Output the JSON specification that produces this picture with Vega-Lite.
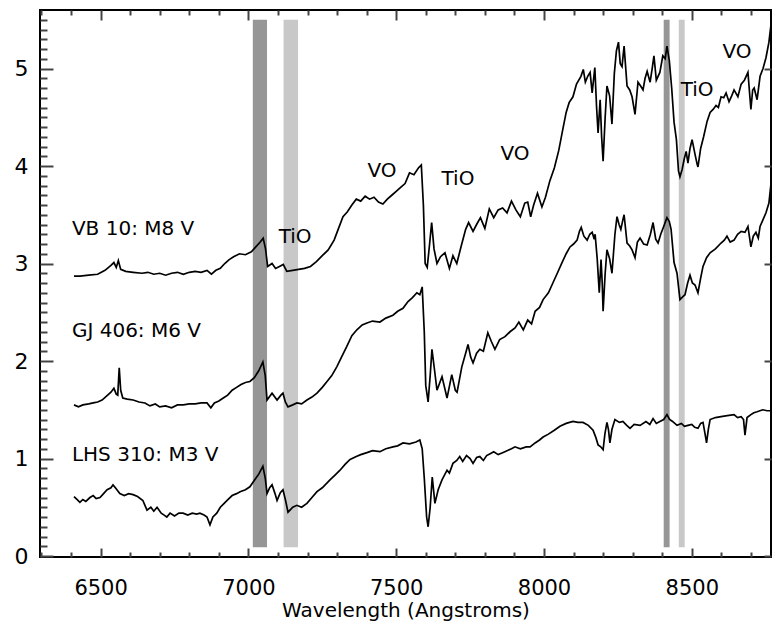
{
  "$schema": "https://vega.github.io/schema/vega-lite/v6.json",
  "width": 731,
  "height": 547,
  "autosize": {"type": "none"},
  "padding": {"left": 40, "top": 10, "right": 2, "bottom": 80},
  "background": "white",
  "config": {"view": {"stroke": "black", "strokeWidth": 2}, "font": "DejaVu Sans",
    "axis": {"grid": false, "domain": false, "labelColor": "black", "titleColor": "black"}},
  "datasets": {
    "bands": [
      {"start": 7015, "end": 7063, "low": 0.09, "high": 5.5, "shade": "dark"},
      {"start": 7119, "end": 7168, "low": 0.09, "high": 5.5, "shade": "light"},
      {"start": 8405, "end": 8425, "low": 0.09, "high": 5.5, "shade": "dark"},
      {"start": 8456, "end": 8476, "low": 0.09, "high": 5.5, "shade": "light"}
    ],
    "stars": [
      {"wl": 6403, "flux": 3.35, "label": "VB 10: M8 V"},
      {"wl": 6403, "flux": 2.31, "label": "GJ 406: M6 V"},
      {"wl": 6403, "flux": 1.04, "label": "LHS 310: M3 V"}
    ],
    "bandsLabels": [
      {"wl": 7158, "flux": 3.27, "label": "TiO"},
      {"wl": 7452, "flux": 3.95, "label": "VO"},
      {"wl": 7709, "flux": 3.87, "label": "TiO"},
      {"wl": 7902, "flux": 4.12, "label": "VO"},
      {"wl": 8518, "flux": 4.78, "label": "TiO"},
      {"wl": 8653, "flux": 5.17, "label": "VO"}
    ],
    "spectra": [
      {"star":"VB 10","wl":6410,"flux":2.87},{"star":"VB 10","wl":6430,"flux":2.87},{"star":"VB 10","wl":6460,"flux":2.88},{"star":"VB 10","wl":6490,"flux":2.89},{"star":"VB 10","wl":6515,"flux":2.93},{"star":"VB 10","wl":6535,"flux":2.98},{"star":"VB 10","wl":6545,"flux":3.01},{"star":"VB 10","wl":6553,"flux":2.96},{"star":"VB 10","wl":6560,"flux":3.03},{"star":"VB 10","wl":6568,"flux":2.94},{"star":"VB 10","wl":6585,"flux":2.92},{"star":"VB 10","wl":6610,"flux":2.91},{"star":"VB 10","wl":6640,"flux":2.90},{"star":"VB 10","wl":6660,"flux":2.91},{"star":"VB 10","wl":6680,"flux":2.89},{"star":"VB 10","wl":6700,"flux":2.90},{"star":"VB 10","wl":6720,"flux":2.88},{"star":"VB 10","wl":6740,"flux":2.90},{"star":"VB 10","wl":6760,"flux":2.91},{"star":"VB 10","wl":6780,"flux":2.89},{"star":"VB 10","wl":6800,"flux":2.91},{"star":"VB 10","wl":6820,"flux":2.92},{"star":"VB 10","wl":6840,"flux":2.91},{"star":"VB 10","wl":6860,"flux":2.93},{"star":"VB 10","wl":6875,"flux":2.89},{"star":"VB 10","wl":6890,"flux":2.93},{"star":"VB 10","wl":6905,"flux":2.95},{"star":"VB 10","wl":6920,"flux":3.00},{"star":"VB 10","wl":6935,"flux":3.04},{"star":"VB 10","wl":6950,"flux":3.07},{"star":"VB 10","wl":6970,"flux":3.10},{"star":"VB 10","wl":6990,"flux":3.09},{"star":"VB 10","wl":7010,"flux":3.12},{"star":"VB 10","wl":7025,"flux":3.17},{"star":"VB 10","wl":7040,"flux":3.22},{"star":"VB 10","wl":7050,"flux":3.26},{"star":"VB 10","wl":7058,"flux":3.15},{"star":"VB 10","wl":7065,"flux":2.97},{"star":"VB 10","wl":7080,"flux":3.00},{"star":"VB 10","wl":7092,"flux":2.95},{"star":"VB 10","wl":7105,"flux":2.97},{"star":"VB 10","wl":7118,"flux":2.99},{"star":"VB 10","wl":7130,"flux":2.92},{"star":"VB 10","wl":7150,"flux":2.93},{"star":"VB 10","wl":7170,"flux":2.94},{"star":"VB 10","wl":7190,"flux":2.95},{"star":"VB 10","wl":7210,"flux":2.97},{"star":"VB 10","wl":7230,"flux":3.02},{"star":"VB 10","wl":7250,"flux":3.08},{"star":"VB 10","wl":7270,"flux":3.14},{"star":"VB 10","wl":7290,"flux":3.24},{"star":"VB 10","wl":7305,"flux":3.36},{"star":"VB 10","wl":7320,"flux":3.48},{"star":"VB 10","wl":7335,"flux":3.53},{"star":"VB 10","wl":7350,"flux":3.60},{"star":"VB 10","wl":7365,"flux":3.66},{"star":"VB 10","wl":7380,"flux":3.64},{"star":"VB 10","wl":7395,"flux":3.69},{"star":"VB 10","wl":7410,"flux":3.66},{"star":"VB 10","wl":7425,"flux":3.68},{"star":"VB 10","wl":7440,"flux":3.63},{"star":"VB 10","wl":7455,"flux":3.61},{"star":"VB 10","wl":7470,"flux":3.66},{"star":"VB 10","wl":7485,"flux":3.70},{"star":"VB 10","wl":7500,"flux":3.74},{"star":"VB 10","wl":7515,"flux":3.78},{"star":"VB 10","wl":7530,"flux":3.82},{"star":"VB 10","wl":7545,"flux":3.93},{"star":"VB 10","wl":7560,"flux":3.91},{"star":"VB 10","wl":7575,"flux":3.98},{"star":"VB 10","wl":7585,"flux":4.01},{"star":"VB 10","wl":7592,"flux":3.60},{"star":"VB 10","wl":7598,"flux":3.00},{"star":"VB 10","wl":7605,"flux":2.96},{"star":"VB 10","wl":7613,"flux":3.20},{"star":"VB 10","wl":7620,"flux":3.42},{"star":"VB 10","wl":7628,"flux":3.15},{"star":"VB 10","wl":7638,"flux":3.00},{"star":"VB 10","wl":7650,"flux":3.07},{"star":"VB 10","wl":7665,"flux":3.11},{"star":"VB 10","wl":7680,"flux":2.95},{"star":"VB 10","wl":7692,"flux":3.08},{"star":"VB 10","wl":7705,"flux":3.00},{"star":"VB 10","wl":7720,"flux":3.18},{"star":"VB 10","wl":7735,"flux":3.35},{"star":"VB 10","wl":7745,"flux":3.42},{"star":"VB 10","wl":7760,"flux":3.33},{"star":"VB 10","wl":7772,"flux":3.40},{"star":"VB 10","wl":7785,"flux":3.47},{"star":"VB 10","wl":7800,"flux":3.36},{"star":"VB 10","wl":7815,"flux":3.56},{"star":"VB 10","wl":7830,"flux":3.47},{"star":"VB 10","wl":7845,"flux":3.55},{"star":"VB 10","wl":7860,"flux":3.57},{"star":"VB 10","wl":7875,"flux":3.52},{"star":"VB 10","wl":7890,"flux":3.64},{"star":"VB 10","wl":7905,"flux":3.55},{"star":"VB 10","wl":7920,"flux":3.48},{"star":"VB 10","wl":7935,"flux":3.62},{"star":"VB 10","wl":7945,"flux":3.63},{"star":"VB 10","wl":7955,"flux":3.48},{"star":"VB 10","wl":7965,"flux":3.60},{"star":"VB 10","wl":7978,"flux":3.72},{"star":"VB 10","wl":7993,"flux":3.58},{"star":"VB 10","wl":8005,"flux":3.68},{"star":"VB 10","wl":8020,"flux":3.85},{"star":"VB 10","wl":8035,"flux":3.98},{"star":"VB 10","wl":8050,"flux":4.16},{"star":"VB 10","wl":8062,"flux":4.35},{"star":"VB 10","wl":8075,"flux":4.55},{"star":"VB 10","wl":8085,"flux":4.65},{"star":"VB 10","wl":8098,"flux":4.71},{"star":"VB 10","wl":8110,"flux":4.84},{"star":"VB 10","wl":8125,"flux":4.92},{"star":"VB 10","wl":8133,"flux":4.99},{"star":"VB 10","wl":8140,"flux":4.86},{"star":"VB 10","wl":8148,"flux":4.92},{"star":"VB 10","wl":8156,"flux":4.96},{"star":"VB 10","wl":8163,"flux":4.75},{"star":"VB 10","wl":8172,"flux":5.01},{"star":"VB 10","wl":8178,"flux":4.60},{"star":"VB 10","wl":8183,"flux":4.34},{"star":"VB 10","wl":8190,"flux":4.68},{"star":"VB 10","wl":8195,"flux":4.30},{"star":"VB 10","wl":8200,"flux":4.05},{"star":"VB 10","wl":8207,"flux":4.50},{"star":"VB 10","wl":8213,"flux":4.82},{"star":"VB 10","wl":8222,"flux":4.72},{"star":"VB 10","wl":8230,"flux":4.43},{"star":"VB 10","wl":8238,"flux":4.95},{"star":"VB 10","wl":8245,"flux":5.18},{"star":"VB 10","wl":8252,"flux":5.27},{"star":"VB 10","wl":8258,"flux":5.05},{"star":"VB 10","wl":8264,"flux":5.02},{"star":"VB 10","wl":8271,"flux":5.23},{"star":"VB 10","wl":8281,"flux":4.82},{"star":"VB 10","wl":8290,"flux":4.78},{"star":"VB 10","wl":8298,"flux":4.71},{"star":"VB 10","wl":8308,"flux":4.53},{"star":"VB 10","wl":8318,"flux":4.86},{"star":"VB 10","wl":8327,"flux":4.82},{"star":"VB 10","wl":8335,"flux":4.78},{"star":"VB 10","wl":8342,"flux":4.90},{"star":"VB 10","wl":8349,"flux":4.97},{"star":"VB 10","wl":8359,"flux":4.86},{"star":"VB 10","wl":8366,"flux":5.00},{"star":"VB 10","wl":8372,"flux":5.13},{"star":"VB 10","wl":8380,"flux":4.88},{"star":"VB 10","wl":8392,"flux":4.96},{"star":"VB 10","wl":8402,"flux":5.13},{"star":"VB 10","wl":8410,"flux":5.10},{"star":"VB 10","wl":8416,"flux":5.23},{"star":"VB 10","wl":8424,"flux":5.08},{"star":"VB 10","wl":8432,"flux":4.80},{"star":"VB 10","wl":8440,"flux":4.45},{"star":"VB 10","wl":8448,"flux":4.27},{"star":"VB 10","wl":8455,"flux":3.95},{"star":"VB 10","wl":8460,"flux":3.89},{"star":"VB 10","wl":8467,"flux":3.96},{"star":"VB 10","wl":8475,"flux":4.08},{"star":"VB 10","wl":8481,"flux":4.15},{"star":"VB 10","wl":8487,"flux":4.03},{"star":"VB 10","wl":8494,"flux":4.18},{"star":"VB 10","wl":8501,"flux":4.27},{"star":"VB 10","wl":8511,"flux":4.12},{"star":"VB 10","wl":8518,"flux":4.02},{"star":"VB 10","wl":8521,"flux":3.99},{"star":"VB 10","wl":8530,"flux":4.18},{"star":"VB 10","wl":8540,"flux":4.30},{"star":"VB 10","wl":8552,"flux":4.46},{"star":"VB 10","wl":8562,"flux":4.55},{"star":"VB 10","wl":8572,"flux":4.58},{"star":"VB 10","wl":8582,"flux":4.62},{"star":"VB 10","wl":8590,"flux":4.60},{"star":"VB 10","wl":8599,"flux":4.71},{"star":"VB 10","wl":8608,"flux":4.70},{"star":"VB 10","wl":8616,"flux":4.75},{"star":"VB 10","wl":8626,"flux":4.66},{"star":"VB 10","wl":8635,"flux":4.72},{"star":"VB 10","wl":8643,"flux":4.78},{"star":"VB 10","wl":8656,"flux":4.71},{"star":"VB 10","wl":8667,"flux":4.84},{"star":"VB 10","wl":8678,"flux":4.88},{"star":"VB 10","wl":8690,"flux":4.96},{"star":"VB 10","wl":8700,"flux":4.58},{"star":"VB 10","wl":8706,"flux":4.78},{"star":"VB 10","wl":8711,"flux":4.80},{"star":"VB 10","wl":8721,"flux":4.68},{"star":"VB 10","wl":8731,"flux":4.92},{"star":"VB 10","wl":8741,"flux":5.00},{"star":"VB 10","wl":8751,"flux":5.11},{"star":"VB 10","wl":8761,"flux":5.27},{"star":"VB 10","wl":8768,"flux":5.45},
      {"star":"GJ 406","wl":6410,"flux":1.55},{"star":"GJ 406","wl":6425,"flux":1.53},{"star":"GJ 406","wl":6440,"flux":1.55},{"star":"GJ 406","wl":6460,"flux":1.56},{"star":"GJ 406","wl":6475,"flux":1.57},{"star":"GJ 406","wl":6490,"flux":1.58},{"star":"GJ 406","wl":6505,"flux":1.60},{"star":"GJ 406","wl":6520,"flux":1.64},{"star":"GJ 406","wl":6535,"flux":1.68},{"star":"GJ 406","wl":6545,"flux":1.72},{"star":"GJ 406","wl":6553,"flux":1.66},{"star":"GJ 406","wl":6558,"flux":1.65},{"star":"GJ 406","wl":6563,"flux":1.93},{"star":"GJ 406","wl":6568,"flux":1.70},{"star":"GJ 406","wl":6575,"flux":1.62},{"star":"GJ 406","wl":6590,"flux":1.61},{"star":"GJ 406","wl":6610,"flux":1.60},{"star":"GJ 406","wl":6630,"flux":1.58},{"star":"GJ 406","wl":6650,"flux":1.57},{"star":"GJ 406","wl":6667,"flux":1.54},{"star":"GJ 406","wl":6685,"flux":1.56},{"star":"GJ 406","wl":6700,"flux":1.53},{"star":"GJ 406","wl":6720,"flux":1.54},{"star":"GJ 406","wl":6740,"flux":1.52},{"star":"GJ 406","wl":6760,"flux":1.55},{"star":"GJ 406","wl":6780,"flux":1.55},{"star":"GJ 406","wl":6800,"flux":1.56},{"star":"GJ 406","wl":6820,"flux":1.56},{"star":"GJ 406","wl":6840,"flux":1.57},{"star":"GJ 406","wl":6860,"flux":1.57},{"star":"GJ 406","wl":6873,"flux":1.52},{"star":"GJ 406","wl":6885,"flux":1.57},{"star":"GJ 406","wl":6900,"flux":1.59},{"star":"GJ 406","wl":6915,"flux":1.62},{"star":"GJ 406","wl":6930,"flux":1.65},{"star":"GJ 406","wl":6945,"flux":1.70},{"star":"GJ 406","wl":6960,"flux":1.73},{"star":"GJ 406","wl":6975,"flux":1.76},{"star":"GJ 406","wl":6990,"flux":1.78},{"star":"GJ 406","wl":7005,"flux":1.79},{"star":"GJ 406","wl":7020,"flux":1.83},{"star":"GJ 406","wl":7035,"flux":1.90},{"star":"GJ 406","wl":7049,"flux":1.99},{"star":"GJ 406","wl":7057,"flux":1.85},{"star":"GJ 406","wl":7063,"flux":1.60},{"star":"GJ 406","wl":7080,"flux":1.67},{"star":"GJ 406","wl":7097,"flux":1.60},{"star":"GJ 406","wl":7110,"flux":1.65},{"star":"GJ 406","wl":7117,"flux":1.67},{"star":"GJ 406","wl":7125,"flux":1.58},{"star":"GJ 406","wl":7134,"flux":1.53},{"star":"GJ 406","wl":7150,"flux":1.55},{"star":"GJ 406","wl":7164,"flux":1.57},{"star":"GJ 406","wl":7180,"flux":1.56},{"star":"GJ 406","wl":7198,"flux":1.60},{"star":"GJ 406","wl":7215,"flux":1.63},{"star":"GJ 406","wl":7232,"flux":1.67},{"star":"GJ 406","wl":7250,"flux":1.73},{"star":"GJ 406","wl":7266,"flux":1.79},{"star":"GJ 406","wl":7282,"flux":1.85},{"star":"GJ 406","wl":7299,"flux":1.94},{"star":"GJ 406","wl":7315,"flux":2.04},{"star":"GJ 406","wl":7333,"flux":2.15},{"star":"GJ 406","wl":7350,"flux":2.26},{"star":"GJ 406","wl":7367,"flux":2.32},{"star":"GJ 406","wl":7385,"flux":2.37},{"star":"GJ 406","wl":7401,"flux":2.39},{"star":"GJ 406","wl":7420,"flux":2.41},{"star":"GJ 406","wl":7445,"flux":2.40},{"star":"GJ 406","wl":7465,"flux":2.44},{"star":"GJ 406","wl":7489,"flux":2.47},{"star":"GJ 406","wl":7505,"flux":2.51},{"star":"GJ 406","wl":7523,"flux":2.54},{"star":"GJ 406","wl":7540,"flux":2.61},{"star":"GJ 406","wl":7555,"flux":2.65},{"star":"GJ 406","wl":7570,"flux":2.70},{"star":"GJ 406","wl":7580,"flux":2.68},{"star":"GJ 406","wl":7588,"flux":2.76},{"star":"GJ 406","wl":7595,"flux":2.30},{"star":"GJ 406","wl":7600,"flux":1.75},{"star":"GJ 406","wl":7608,"flux":1.58},{"star":"GJ 406","wl":7615,"flux":1.85},{"star":"GJ 406","wl":7621,"flux":2.12},{"star":"GJ 406","wl":7630,"flux":1.90},{"star":"GJ 406","wl":7638,"flux":1.70},{"star":"GJ 406","wl":7655,"flux":1.84},{"star":"GJ 406","wl":7672,"flux":1.62},{"star":"GJ 406","wl":7688,"flux":1.86},{"star":"GJ 406","wl":7700,"flux":1.70},{"star":"GJ 406","wl":7706,"flux":1.68},{"star":"GJ 406","wl":7722,"flux":1.94},{"star":"GJ 406","wl":7735,"flux":2.08},{"star":"GJ 406","wl":7743,"flux":2.17},{"star":"GJ 406","wl":7752,"flux":2.04},{"star":"GJ 406","wl":7760,"flux":1.98},{"star":"GJ 406","wl":7772,"flux":2.08},{"star":"GJ 406","wl":7783,"flux":2.12},{"star":"GJ 406","wl":7795,"flux":2.10},{"star":"GJ 406","wl":7810,"flux":2.29},{"star":"GJ 406","wl":7822,"flux":2.20},{"star":"GJ 406","wl":7834,"flux":2.12},{"star":"GJ 406","wl":7850,"flux":2.22},{"star":"GJ 406","wl":7868,"flux":2.25},{"star":"GJ 406","wl":7885,"flux":2.30},{"star":"GJ 406","wl":7902,"flux":2.34},{"star":"GJ 406","wl":7915,"flux":2.40},{"star":"GJ 406","wl":7930,"flux":2.32},{"star":"GJ 406","wl":7945,"flux":2.42},{"star":"GJ 406","wl":7958,"flux":2.38},{"star":"GJ 406","wl":7970,"flux":2.51},{"star":"GJ 406","wl":7985,"flux":2.55},{"star":"GJ 406","wl":7997,"flux":2.63},{"star":"GJ 406","wl":8015,"flux":2.70},{"star":"GJ 406","wl":8030,"flux":2.80},{"star":"GJ 406","wl":8045,"flux":2.90},{"star":"GJ 406","wl":8061,"flux":3.01},{"star":"GJ 406","wl":8075,"flux":3.10},{"star":"GJ 406","wl":8088,"flux":3.17},{"star":"GJ 406","wl":8100,"flux":3.20},{"star":"GJ 406","wl":8112,"flux":3.24},{"star":"GJ 406","wl":8120,"flux":3.33},{"star":"GJ 406","wl":8126,"flux":3.37},{"star":"GJ 406","wl":8135,"flux":3.28},{"star":"GJ 406","wl":8146,"flux":3.24},{"star":"GJ 406","wl":8155,"flux":3.30},{"star":"GJ 406","wl":8163,"flux":3.32},{"star":"GJ 406","wl":8170,"flux":3.25},{"star":"GJ 406","wl":8173,"flux":3.30},{"star":"GJ 406","wl":8180,"flux":3.05},{"star":"GJ 406","wl":8187,"flux":2.70},{"star":"GJ 406","wl":8193,"flux":3.04},{"star":"GJ 406","wl":8197,"flux":2.80},{"star":"GJ 406","wl":8200,"flux":2.51},{"star":"GJ 406","wl":8207,"flux":2.90},{"star":"GJ 406","wl":8213,"flux":3.14},{"star":"GJ 406","wl":8222,"flux":3.05},{"star":"GJ 406","wl":8230,"flux":2.90},{"star":"GJ 406","wl":8240,"flux":3.30},{"star":"GJ 406","wl":8247,"flux":3.48},{"star":"GJ 406","wl":8254,"flux":3.40},{"star":"GJ 406","wl":8260,"flux":3.35},{"star":"GJ 406","wl":8267,"flux":3.45},{"star":"GJ 406","wl":8271,"flux":3.50},{"star":"GJ 406","wl":8281,"flux":3.21},{"star":"GJ 406","wl":8290,"flux":3.18},{"star":"GJ 406","wl":8298,"flux":3.14},{"star":"GJ 406","wl":8308,"flux":3.06},{"star":"GJ 406","wl":8316,"flux":3.22},{"star":"GJ 406","wl":8325,"flux":3.26},{"star":"GJ 406","wl":8337,"flux":3.20},{"star":"GJ 406","wl":8349,"flux":3.19},{"star":"GJ 406","wl":8360,"flux":3.30},{"star":"GJ 406","wl":8369,"flux":3.42},{"star":"GJ 406","wl":8378,"flux":3.25},{"star":"GJ 406","wl":8386,"flux":3.21},{"star":"GJ 406","wl":8395,"flux":3.30},{"star":"GJ 406","wl":8405,"flux":3.38},{"star":"GJ 406","wl":8416,"flux":3.47},{"star":"GJ 406","wl":8424,"flux":3.43},{"star":"GJ 406","wl":8430,"flux":3.35},{"star":"GJ 406","wl":8440,"flux":3.01},{"star":"GJ 406","wl":8450,"flux":2.90},{"star":"GJ 406","wl":8460,"flux":2.63},{"star":"GJ 406","wl":8470,"flux":2.66},{"star":"GJ 406","wl":8477,"flux":2.68},{"star":"GJ 406","wl":8486,"flux":2.80},{"star":"GJ 406","wl":8494,"flux":2.88},{"star":"GJ 406","wl":8502,"flux":2.80},{"star":"GJ 406","wl":8511,"flux":2.78},{"star":"GJ 406","wl":8521,"flux":2.70},{"star":"GJ 406","wl":8530,"flux":2.85},{"star":"GJ 406","wl":8538,"flux":2.97},{"star":"GJ 406","wl":8550,"flux":3.06},{"star":"GJ 406","wl":8562,"flux":3.11},{"star":"GJ 406","wl":8580,"flux":3.15},{"star":"GJ 406","wl":8599,"flux":3.21},{"star":"GJ 406","wl":8610,"flux":3.24},{"star":"GJ 406","wl":8619,"flux":3.28},{"star":"GJ 406","wl":8630,"flux":3.22},{"star":"GJ 406","wl":8643,"flux":3.24},{"star":"GJ 406","wl":8655,"flux":3.30},{"star":"GJ 406","wl":8667,"flux":3.33},{"star":"GJ 406","wl":8680,"flux":3.32},{"star":"GJ 406","wl":8690,"flux":3.38},{"star":"GJ 406","wl":8700,"flux":3.17},{"star":"GJ 406","wl":8708,"flux":3.28},{"star":"GJ 406","wl":8717,"flux":3.32},{"star":"GJ 406","wl":8725,"flux":3.26},{"star":"GJ 406","wl":8731,"flux":3.38},{"star":"GJ 406","wl":8741,"flux":3.45},{"star":"GJ 406","wl":8751,"flux":3.52},{"star":"GJ 406","wl":8761,"flux":3.62},{"star":"GJ 406","wl":8768,"flux":3.82},
      {"star":"LHS 310","wl":6410,"flux":0.61},{"star":"LHS 310","wl":6420,"flux":0.58},{"star":"LHS 310","wl":6430,"flux":0.55},{"star":"LHS 310","wl":6440,"flux":0.58},{"star":"LHS 310","wl":6450,"flux":0.56},{"star":"LHS 310","wl":6464,"flux":0.60},{"star":"LHS 310","wl":6475,"flux":0.62},{"star":"LHS 310","wl":6485,"flux":0.59},{"star":"LHS 310","wl":6498,"flux":0.60},{"star":"LHS 310","wl":6510,"flux":0.64},{"star":"LHS 310","wl":6522,"flux":0.68},{"star":"LHS 310","wl":6535,"flux":0.70},{"star":"LHS 310","wl":6542,"flux":0.73},{"star":"LHS 310","wl":6550,"flux":0.70},{"star":"LHS 310","wl":6565,"flux":0.64},{"star":"LHS 310","wl":6580,"flux":0.62},{"star":"LHS 310","wl":6595,"flux":0.64},{"star":"LHS 310","wl":6610,"flux":0.63},{"star":"LHS 310","wl":6625,"flux":0.61},{"star":"LHS 310","wl":6643,"flux":0.57},{"star":"LHS 310","wl":6650,"flux":0.52},{"star":"LHS 310","wl":6657,"flux":0.47},{"star":"LHS 310","wl":6670,"flux":0.50},{"star":"LHS 310","wl":6680,"flux":0.46},{"star":"LHS 310","wl":6691,"flux":0.50},{"star":"LHS 310","wl":6705,"flux":0.44},{"star":"LHS 310","wl":6715,"flux":0.42},{"star":"LHS 310","wl":6724,"flux":0.40},{"star":"LHS 310","wl":6735,"flux":0.44},{"star":"LHS 310","wl":6750,"flux":0.41},{"star":"LHS 310","wl":6765,"flux":0.44},{"star":"LHS 310","wl":6779,"flux":0.44},{"star":"LHS 310","wl":6795,"flux":0.42},{"star":"LHS 310","wl":6810,"flux":0.44},{"star":"LHS 310","wl":6825,"flux":0.43},{"star":"LHS 310","wl":6836,"flux":0.44},{"star":"LHS 310","wl":6850,"flux":0.42},{"star":"LHS 310","wl":6860,"flux":0.40},{"star":"LHS 310","wl":6870,"flux":0.32},{"star":"LHS 310","wl":6880,"flux":0.40},{"star":"LHS 310","wl":6893,"flux":0.44},{"star":"LHS 310","wl":6905,"flux":0.50},{"star":"LHS 310","wl":6918,"flux":0.54},{"star":"LHS 310","wl":6928,"flux":0.57},{"star":"LHS 310","wl":6945,"flux":0.62},{"star":"LHS 310","wl":6960,"flux":0.64},{"star":"LHS 310","wl":6972,"flux":0.66},{"star":"LHS 310","wl":6990,"flux":0.68},{"star":"LHS 310","wl":7005,"flux":0.71},{"star":"LHS 310","wl":7021,"flux":0.78},{"star":"LHS 310","wl":7035,"flux":0.84},{"star":"LHS 310","wl":7049,"flux":0.92},{"star":"LHS 310","wl":7057,"flux":0.80},{"star":"LHS 310","wl":7063,"flux":0.64},{"star":"LHS 310","wl":7072,"flux":0.70},{"star":"LHS 310","wl":7080,"flux":0.73},{"star":"LHS 310","wl":7090,"flux":0.64},{"star":"LHS 310","wl":7097,"flux":0.57},{"star":"LHS 310","wl":7108,"flux":0.65},{"star":"LHS 310","wl":7117,"flux":0.68},{"star":"LHS 310","wl":7125,"flux":0.58},{"star":"LHS 310","wl":7134,"flux":0.45},{"star":"LHS 310","wl":7150,"flux":0.50},{"star":"LHS 310","wl":7164,"flux":0.52},{"star":"LHS 310","wl":7180,"flux":0.50},{"star":"LHS 310","wl":7198,"flux":0.54},{"star":"LHS 310","wl":7215,"flux":0.60},{"star":"LHS 310","wl":7232,"flux":0.66},{"star":"LHS 310","wl":7250,"flux":0.70},{"star":"LHS 310","wl":7276,"flux":0.78},{"star":"LHS 310","wl":7293,"flux":0.83},{"star":"LHS 310","wl":7310,"flux":0.88},{"star":"LHS 310","wl":7327,"flux":0.94},{"star":"LHS 310","wl":7344,"flux":0.99},{"star":"LHS 310","wl":7365,"flux":1.02},{"star":"LHS 310","wl":7380,"flux":1.04},{"star":"LHS 310","wl":7401,"flux":1.06},{"star":"LHS 310","wl":7420,"flux":1.08},{"star":"LHS 310","wl":7445,"flux":1.07},{"star":"LHS 310","wl":7465,"flux":1.10},{"star":"LHS 310","wl":7489,"flux":1.12},{"star":"LHS 310","wl":7505,"flux":1.13},{"star":"LHS 310","wl":7523,"flux":1.16},{"star":"LHS 310","wl":7545,"flux":1.15},{"star":"LHS 310","wl":7567,"flux":1.17},{"star":"LHS 310","wl":7580,"flux":1.19},{"star":"LHS 310","wl":7588,"flux":1.10},{"star":"LHS 310","wl":7595,"flux":0.80},{"star":"LHS 310","wl":7603,"flux":0.40},{"star":"LHS 310","wl":7608,"flux":0.30},{"star":"LHS 310","wl":7615,"flux":0.50},{"star":"LHS 310","wl":7622,"flux":0.81},{"star":"LHS 310","wl":7631,"flux":0.54},{"star":"LHS 310","wl":7642,"flux":0.68},{"star":"LHS 310","wl":7655,"flux":0.78},{"star":"LHS 310","wl":7672,"flux":0.88},{"star":"LHS 310","wl":7680,"flux":0.85},{"star":"LHS 310","wl":7692,"flux":0.95},{"star":"LHS 310","wl":7705,"flux":0.98},{"star":"LHS 310","wl":7715,"flux":1.02},{"star":"LHS 310","wl":7725,"flux":0.97},{"star":"LHS 310","wl":7738,"flux":1.03},{"star":"LHS 310","wl":7750,"flux":1.00},{"star":"LHS 310","wl":7760,"flux":0.95},{"star":"LHS 310","wl":7772,"flux":1.01},{"star":"LHS 310","wl":7783,"flux":1.02},{"star":"LHS 310","wl":7795,"flux":0.98},{"star":"LHS 310","wl":7806,"flux":1.03},{"star":"LHS 310","wl":7818,"flux":1.05},{"star":"LHS 310","wl":7830,"flux":1.07},{"star":"LHS 310","wl":7845,"flux":1.04},{"star":"LHS 310","wl":7860,"flux":1.06},{"star":"LHS 310","wl":7875,"flux":1.08},{"star":"LHS 310","wl":7890,"flux":1.10},{"star":"LHS 310","wl":7902,"flux":1.12},{"star":"LHS 310","wl":7920,"flux":1.10},{"star":"LHS 310","wl":7940,"flux":1.12},{"star":"LHS 310","wl":7953,"flux":1.12},{"star":"LHS 310","wl":7970,"flux":1.16},{"star":"LHS 310","wl":7985,"flux":1.19},{"star":"LHS 310","wl":7997,"flux":1.22},{"star":"LHS 310","wl":8015,"flux":1.25},{"star":"LHS 310","wl":8035,"flux":1.29},{"star":"LHS 310","wl":8054,"flux":1.33},{"star":"LHS 310","wl":8075,"flux":1.36},{"star":"LHS 310","wl":8098,"flux":1.38},{"star":"LHS 310","wl":8115,"flux":1.37},{"star":"LHS 310","wl":8132,"flux":1.37},{"star":"LHS 310","wl":8150,"flux":1.34},{"star":"LHS 310","wl":8166,"flux":1.29},{"star":"LHS 310","wl":8175,"flux":1.22},{"star":"LHS 310","wl":8183,"flux":1.14},{"star":"LHS 310","wl":8192,"flux":1.12},{"star":"LHS 310","wl":8200,"flux":1.09},{"star":"LHS 310","wl":8206,"flux":1.25},{"star":"LHS 310","wl":8213,"flux":1.37},{"star":"LHS 310","wl":8218,"flux":1.30},{"star":"LHS 310","wl":8223,"flux":1.16},{"star":"LHS 310","wl":8230,"flux":1.30},{"star":"LHS 310","wl":8240,"flux":1.40},{"star":"LHS 310","wl":8255,"flux":1.37},{"star":"LHS 310","wl":8267,"flux":1.38},{"star":"LHS 310","wl":8280,"flux":1.34},{"star":"LHS 310","wl":8291,"flux":1.31},{"star":"LHS 310","wl":8305,"flux":1.35},{"star":"LHS 310","wl":8325,"flux":1.34},{"star":"LHS 310","wl":8345,"flux":1.38},{"star":"LHS 310","wl":8358,"flux":1.35},{"star":"LHS 310","wl":8369,"flux":1.41},{"star":"LHS 310","wl":8380,"flux":1.36},{"star":"LHS 310","wl":8392,"flux":1.38},{"star":"LHS 310","wl":8405,"flux":1.40},{"star":"LHS 310","wl":8416,"flux":1.45},{"star":"LHS 310","wl":8425,"flux":1.40},{"star":"LHS 310","wl":8435,"flux":1.38},{"star":"LHS 310","wl":8450,"flux":1.34},{"star":"LHS 310","wl":8465,"flux":1.36},{"star":"LHS 310","wl":8475,"flux":1.33},{"star":"LHS 310","wl":8487,"flux":1.34},{"star":"LHS 310","wl":8500,"flux":1.35},{"star":"LHS 310","wl":8510,"flux":1.32},{"star":"LHS 310","wl":8521,"flux":1.31},{"star":"LHS 310","wl":8530,"flux":1.36},{"star":"LHS 310","wl":8538,"flux":1.37},{"star":"LHS 310","wl":8545,"flux":1.25},{"star":"LHS 310","wl":8550,"flux":1.16},{"star":"LHS 310","wl":8556,"flux":1.30},{"star":"LHS 310","wl":8562,"flux":1.40},{"star":"LHS 310","wl":8580,"flux":1.42},{"star":"LHS 310","wl":8599,"flux":1.43},{"star":"LHS 310","wl":8620,"flux":1.44},{"star":"LHS 310","wl":8643,"flux":1.45},{"star":"LHS 310","wl":8655,"flux":1.42},{"star":"LHS 310","wl":8667,"flux":1.43},{"star":"LHS 310","wl":8675,"flux":1.40},{"star":"LHS 310","wl":8680,"flux":1.24},{"star":"LHS 310","wl":8687,"flux":1.42},{"star":"LHS 310","wl":8700,"flux":1.45},{"star":"LHS 310","wl":8710,"flux":1.47},{"star":"LHS 310","wl":8721,"flux":1.48},{"star":"LHS 310","wl":8740,"flux":1.50},{"star":"LHS 310","wl":8755,"flux":1.49},{"star":"LHS 310","wl":8768,"flux":1.49}
    ]
  },
  "resolve": {"axis": {"x": "independent", "y": "independent"}},
  "layer": [
    {
      "data": {"name": "bands"},
      "mark": {"type": "rect"},
      "encoding": {
        "x": {"field": "start", "type": "quantitative",
          "scale": {"domain": [6295, 8768], "nice": false, "zero": false},
          "axis": {"orient": "bottom", "ticks": false, "values": [6500, 7000, 7500, 8000, 8500], "format": "d",
            "labelFont": "DejaVu Sans", "labelFontSize": 21, "labelPadding": 20,
            "title": "Wavelength (Angstroms)", "titleFont": "DejaVu Sans", "titleFontSize": 20,
            "titleFontWeight": "normal", "titlePadding": 2}},
        "x2": {"field": "end"},
        "y": {"field": "low", "type": "quantitative",
          "scale": {"domain": [-0.01, 5.6], "nice": false, "zero": false},
          "axis": {"orient": "left", "ticks": false, "values": [0, 1, 2, 3, 4, 5], "format": "d",
            "labelFont": "DejaVu Sans", "labelFontSize": 22, "labelPadding": 12, "title": null}},
        "y2": {"field": "high"},
        "color": {"field": "shade", "type": "nominal", "scale": {"domain": ["dark", "light"], "range": ["#969696", "#c8c8c8"]}, "legend": null}
      }
    },
    {
      "data": {"name": "bands"},
      "mark": {"type": "rect", "opacity": 0},
      "encoding": {
        "x": {"field": "start", "type": "quantitative",
          "axis": {"orient": "bottom", "tickSize": -9, "tickColor": "#444444", "tickWidth": 2, "labels": false, "title": null,
            "values": [6500, 7000, 7500, 8000, 8500]}},
        "x2": {"field": "end"},
        "y": {"field": "low", "type": "quantitative",
          "axis": {"orient": "left", "tickSize": -13, "tickColor": "#444444", "tickWidth": 2, "labels": false, "title": null,
            "values": [0, 1, 2, 3, 4, 5]}},
        "y2": {"field": "high"}
      }
    },
    {
      "data": {"name": "bands"},
      "mark": {"type": "rect", "opacity": 0},
      "encoding": {
        "x": {"field": "start", "type": "quantitative",
          "axis": {"orient": "bottom", "tickSize": -5, "tickColor": "#444444", "tickWidth": 2, "labels": false, "title": null,
            "values": [6300,6400,6600,6700,6800,6900,7100,7200,7300,7400,7600,7700,7800,7900,8100,8200,8300,8400,8600,8700]}},
        "x2": {"field": "end"},
        "y": {"field": "low", "type": "quantitative",
          "axis": {"orient": "left", "tickSize": -7, "tickColor": "#444444", "tickWidth": 2, "labels": false, "title": null,
            "values": [0.1,0.2,0.3,0.4,0.5,0.6,0.7,0.8,0.9,1.1,1.2,1.3,1.4,1.5,1.6,1.7,1.8,1.9,2.1,2.2,2.3,2.4,2.5,2.6,2.7,2.8,2.9,3.1,3.2,3.3,3.4,3.5,3.6,3.7,3.8,3.9,4.1,4.2,4.3,4.4,4.5,4.6,4.7,4.8,4.9,5.1,5.2,5.3,5.4,5.5]}},
        "y2": {"field": "high"}
      }
    },
    {
      "data": {"name": "bands"},
      "mark": {"type": "rect", "opacity": 0},
      "encoding": {
        "x": {"field": "start", "type": "quantitative",
          "axis": {"orient": "top", "tickSize": -10, "tickColor": "#444444", "tickWidth": 2, "labels": false, "title": null,
            "values": [6500, 7000, 7500, 8000, 8500]}},
        "x2": {"field": "end"},
        "y": {"field": "low", "type": "quantitative",
          "axis": {"orient": "right", "tickSize": -7, "tickColor": "#444444", "tickWidth": 2, "labels": false, "title": null,
            "values": [0, 1, 2, 3, 4, 5]}},
        "y2": {"field": "high"}
      }
    },
    {
      "data": {"name": "bands"},
      "mark": {"type": "rect", "opacity": 0},
      "encoding": {
        "x": {"field": "start", "type": "quantitative",
          "axis": {"orient": "top", "tickSize": -5, "tickColor": "#444444", "tickWidth": 2, "labels": false, "title": null,
            "values": [6300,6400,6600,6700,6800,6900,7100,7200,7300,7400,7600,7700,7800,7900,8100,8200,8300,8400,8600,8700]}},
        "x2": {"field": "end"},
        "y": {"field": "low", "type": "quantitative", "axis": null},
        "y2": {"field": "high"}
      }
    },
    {
      "data": {"name": "spectra"},
      "mark": {"type": "line", "color": "black", "strokeWidth": 1.7},
      "encoding": {
        "x": {"field": "wl", "type": "quantitative", "axis": null},
        "y": {"field": "flux", "type": "quantitative", "axis": null},
        "detail": {"field": "star", "type": "nominal"}
      }
    },
    {
      "data": {"name": "stars"},
      "mark": {"type": "text", "align": "left", "baseline": "middle", "font": "DejaVu Sans", "fontSize": 20, "color": "black"},
      "encoding": {
        "x": {"field": "wl", "type": "quantitative", "axis": null},
        "y": {"field": "flux", "type": "quantitative", "axis": null},
        "text": {"field": "label"}
      }
    },
    {
      "data": {"name": "bandsLabels"},
      "mark": {"type": "text", "align": "center", "baseline": "middle", "font": "DejaVu Sans", "fontSize": 20, "color": "black"},
      "encoding": {
        "x": {"field": "wl", "type": "quantitative", "axis": null},
        "y": {"field": "flux", "type": "quantitative", "axis": null},
        "text": {"field": "label"}
      }
    }
  ]
}
